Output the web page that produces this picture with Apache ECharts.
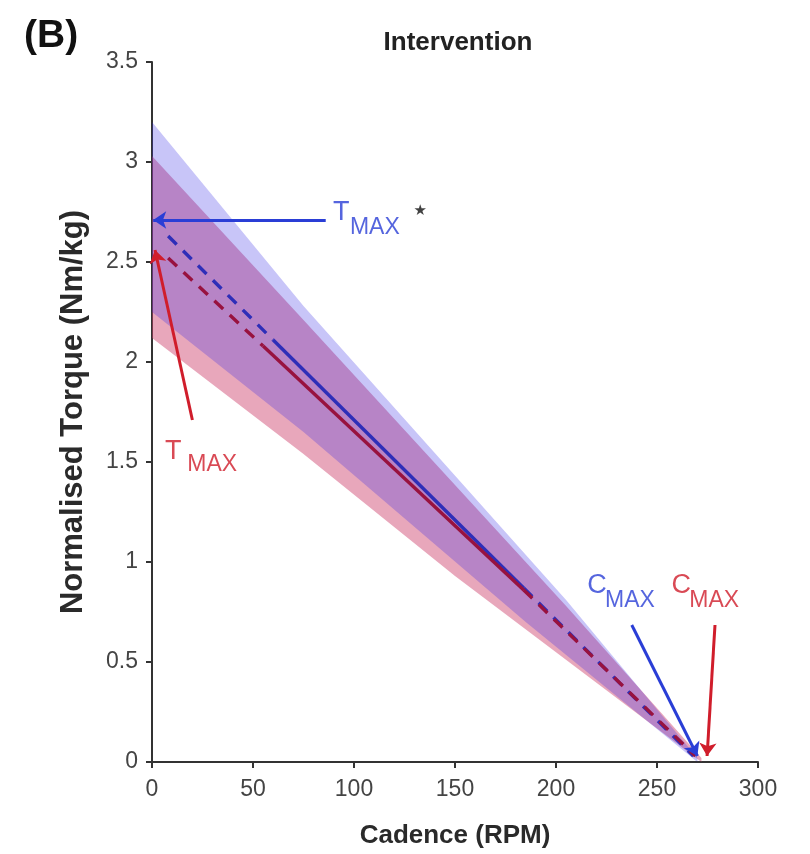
<!DOCTYPE html>
<html><head><meta charset="utf-8">
<script src="https://cdn.jsdelivr.net/npm/echarts@6/dist/echarts.min.js"></script>
<style>html,body{margin:0;padding:0;background:#fff}#c{width:810px;height:854px}</style>
</head><body><div id="c"></div>
<script>
// ---- axis ticks ----
const xTicks = [0, 50, 100, 150, 200, 250, 300];
const yTicks = [0, 0.5, 1, 1.5, 2, 2.5, 3, 3.5];

// ---- confidence bands (cadence, torque) ----
const blueUpperX = [0, 75, 205, 270];
const blueUpperY = [3.2, 2.28, 0.81, 0.02];
const blueLowerX = [0, 75, 185, 270];
const blueLowerY = [2.25, 1.65, 0.70, 0.0];
const redUpperX = [0, 75, 205, 272];
const redUpperY = [3.03, 2.21, 0.78, 0.02];
const redLowerX = [0, 75, 150, 272];
const redLowerY = [2.12, 1.54, 0.93, 0.0];

// ---- mean torque-cadence lines ----
const blueDashA = [[8, 2.63], [60, 2.11]];
const blueSolid = [[60, 2.11], [184, 0.87]];
const blueDashB = [[184, 0.87], [268, 0.03]];
const redDashA = [[8, 2.52], [55, 2.08]];
const redSolid = [[55, 2.08], [184, 0.86]];
const redDashB = [[184, 0.86], [269, 0.03]];

// ---- annotation arrows [from, to] ----
const arrowBlueT = [[86, 2.71], [0.6, 2.71]];
const arrowRedT = [[20, 1.71], [1.5, 2.56]];
const arrowBlueC = [[237.5, 0.685], [270, 0.03]];
const arrowRedC = [[278.7, 0.685], [274.8, 0.03]];

// ---- annotation text anchors: main letter, subscript, star ----
const blueTLetter = [89.6, 2.745];
const blueTSub = [98.0, 2.67];
const blueTStar = [129.5, 2.755];
const redTLetter = [6.4, 1.55];
const redTSub = [17.5, 1.485];
const blueCLetter = [215.5, 0.88];
const blueCSub = [224.3, 0.805];
const redCLetter = [257.2, 0.88];
const redCSub = [266.0, 0.805];

const BLUE_BAND = 'rgba(50,40,230,0.27)';
const RED_BAND = 'rgba(205,60,105,0.45)';
const BLUE_LINE = '#2e2eb8';
const RED_LINE = '#98123f';
const BLUE_ARROW = '#2a3ed6';
const RED_ARROW = '#d01d2b';
const FONT = 'Liberation Sans, Arial, sans-serif';

function band(ux, uy, lx, ly, color, z) {
  return {
    type: 'custom', silent: true, z: z, data: [[0, 0]], clip: true,
    renderItem: function (params, api) {
      const pts = [];
      for (let i = 0; i < ux.length; i++) pts.push(api.coord([ux[i], uy[i]]));
      for (let i = lx.length - 1; i >= 0; i--) pts.push(api.coord([lx[i], ly[i]]));
      return { type: 'polygon', shape: { points: pts }, style: { fill: color, stroke: null } };
    }
  };
}
function mline(data, color, dashed) {
  return {
    type: 'line', data: data, showSymbol: false, symbol: 'none', silent: true, z: 5,
    lineStyle: { color: color, width: 3.4, type: dashed ? [12, 9] : 'solid', cap: 'butt' }
  };
}
function lab(pos, text, color, size, family) {
  return {
    value: pos,
    label: {
      show: true, position: 'right', distance: 0, formatter: text,
      fontSize: size, color: color, fontFamily: family || FONT
    }
  };
}

const chart = echarts.init(document.getElementById('c'), null, { renderer: 'canvas' });
chart.setOption({
  animation: false,
  backgroundColor: '#fff',
  title: [
    { text: '(B)', left: 19, top: 12, textStyle: { fontSize: 39, fontWeight: 'bold', color: '#111', fontFamily: FONT } },
    { text: 'Intervention', left: 453, top: 25, textAlign: 'center', textStyle: { fontSize: 26, fontWeight: 'bold', color: '#222', fontFamily: FONT } }
  ],
  grid: { left: 152, right: 52, top: 62, bottom: 92, containLabel: false, outerBoundsMode: 'none' },
  xAxis: {
    type: 'value', min: xTicks[0], max: xTicks[xTicks.length - 1], interval: 50,
    name: 'Cadence (RPM)', nameLocation: 'middle', nameGap: 61,
    nameTextStyle: { fontSize: 26, fontWeight: 'bold', color: '#2a2a2a', fontFamily: FONT },
    axisLine: { show: true, onZero: false, lineStyle: { color: '#333', width: 2 } },
    axisTick: { show: true, inside: false, length: 6, lineStyle: { color: '#333', width: 2 } },
    axisLabel: { fontSize: 23, color: '#444', margin: 16, fontFamily: FONT },
    splitLine: { show: false }
  },
  yAxis: {
    type: 'value', min: yTicks[0], max: yTicks[yTicks.length - 1], interval: 0.5,
    name: 'Normalised Torque (Nm/kg)', nameLocation: 'middle', nameGap: 63,
    nameTextStyle: { fontSize: 31, fontWeight: 'bold', color: '#2a2a2a', fontFamily: FONT },
    axisLine: { show: true, onZero: false, lineStyle: { color: '#333', width: 2 } },
    axisTick: { show: true, inside: false, length: 6, lineStyle: { color: '#333', width: 2 } },
    axisLabel: { fontSize: 23, color: '#444', margin: 14, fontFamily: FONT },
    splitLine: { show: false }
  },
  series: [
    band(redUpperX, redUpperY, redLowerX, redLowerY, RED_BAND, 1),
    band(blueUpperX, blueUpperY, blueLowerX, blueLowerY, BLUE_BAND, 2),
    mline(blueDashA, BLUE_LINE, true),
    mline(blueSolid, BLUE_LINE, false),
    mline(blueDashB, BLUE_LINE, true),
    mline(redDashA, RED_LINE, true),
    mline(redSolid, RED_LINE, false),
    mline(redDashB, RED_LINE, true),
    {
      type: 'lines', coordinateSystem: 'cartesian2d', silent: true, z: 8,
      symbol: ['none', 'arrow'], symbolSize: [0, 13],
      lineStyle: { width: 3, opacity: 1 },
      data: [
        { coords: arrowBlueT, lineStyle: { color: BLUE_ARROW } },
        { coords: arrowRedT, lineStyle: { color: RED_ARROW } },
        { coords: arrowBlueC, lineStyle: { color: BLUE_ARROW } },
        { coords: arrowRedC, lineStyle: { color: RED_ARROW } }
      ]
    },
    {
      type: 'scatter', symbolSize: 0, silent: true, z: 9,
      data: [
        lab(blueTLetter, 'T', BLUE_ARROW, 27),
        lab(blueTSub, 'MAX', BLUE_ARROW, 23),
        lab(blueTStar, '★', '#111', 15, 'DejaVu Sans'),
        lab(redTLetter, 'T', RED_ARROW, 27),
        lab(redTSub, 'MAX', RED_ARROW, 23),
        lab(blueCLetter, 'C', BLUE_ARROW, 27),
        lab(blueCSub, 'MAX', BLUE_ARROW, 23),
        lab(redCLetter, 'C', RED_ARROW, 27),
        lab(redCSub, 'MAX', RED_ARROW, 23)
      ]
    }
  ]
});
</script>
</body></html>
